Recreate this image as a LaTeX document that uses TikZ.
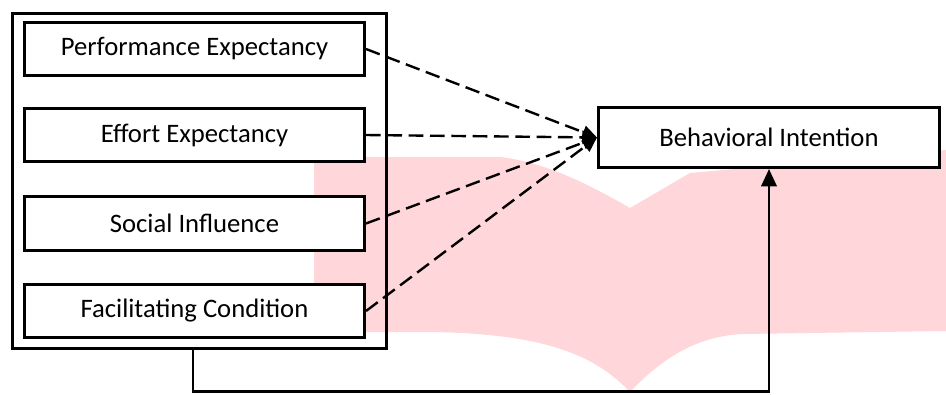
\documentclass[tikz,border=0pt]{standalone}
\usepackage{fontspec}
\setmainfont{Carlito}
\usetikzlibrary{arrows.meta}

\definecolor{blush}{RGB}{255,214,217}

\begin{document}
\begin{tikzpicture}[x=0.75pt,y=0.75pt,yscale=-1,xscale=1,
  factor/.style={draw,line width=2.25pt,fill=white,minimum width=255pt,minimum height=40pt,inner sep=0.75pt,font=\fontsize{20}{24}\selectfont},
  effect/.style={dash pattern=on 11pt off 5pt,line width=1.8pt,-{Triangle[length=11pt,width=10pt]}}]
\useasboundingbox (0,0) rectangle (946,394);
% background shape
\fill [blush] (314,157) -- (500,157) .. controls (545,162) and (590,185) .. (630,208) -- (690,173) -- (946,150) -- (946,331) -- (743,334) .. controls (700,336) and (665,355) .. (630,392) .. controls (595,355) and (545,334) .. (433,332) -- (314,332) -- cycle ;
% group box
\draw (199,180.5) node [draw,line width=2.25pt,minimum width=280.5pt,minimum height=251.25pt,inner sep=0pt] (grp) {};
% Text Node
\draw (194.5,49) node [factor] (pe) {Performance Expectancy};
% Text Node
\draw (194.5,135) node [factor] (ee) {Effort Expectancy};
% Text Node
\draw (194.5,223.5) node [factor] (si) {Social Influence};
% Text Node
\draw (194.5,311) node [factor] (fc) {Facilitating Condition};
% Text Node
\draw (769,137.5) node [factor,minimum width=255.75pt,minimum height=45pt] (bi) {Behavioral Intention};
\draw [effect] (pe.east) -- (bi.west) ;
\draw [effect] (ee.east) -- (bi.west) ;
\draw [effect] (si.east) -- (bi.west) ;
\draw [effect] (fc.east) -- (bi.west) ;
\draw [line width=2pt,-{Triangle[length=13pt,width=11.5pt]}] ([xshift=-4.5pt]grp.south) -- ++(0,42) -| (bi.south) ;
\end{tikzpicture}
\end{document}
